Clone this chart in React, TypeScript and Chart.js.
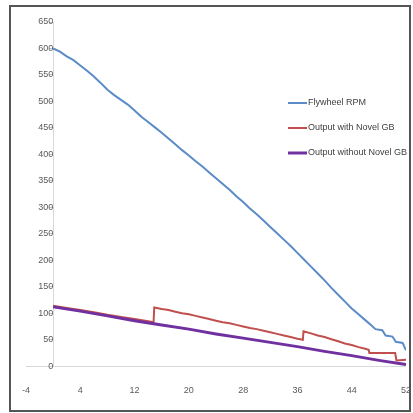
import React, { useEffect, useRef } from "react";
import { Chart, registerables } from "chart.js";

Chart.register(...registerables);

// Flywheel RPM
const rpmX = [0, 1, 2, 3, 4, 5, 6, 7, 8, 9, 10, 11, 12, 13, 14, 15, 16, 17, 18, 19, 20, 21, 22, 23, 24, 25, 26, 27, 28, 29, 30, 31, 32, 33, 34, 35, 36, 37, 38, 39, 40, 41, 42, 43, 44, 45, 46, 47, 47.5, 48.5, 49, 50, 50.5, 51.5, 52];
const rpmY = [600, 594, 585, 578, 568, 558, 547, 535, 522, 512, 503, 494, 483, 471, 461, 451, 441, 430, 419, 408, 398, 387, 377, 366, 355, 344, 333, 321, 310, 298, 287, 275, 263, 251, 239, 227, 214, 201, 188, 175, 162, 148, 135, 122, 109, 98, 87, 76, 70, 68, 58, 56, 46, 44, 30];

// Output with Novel GB
const withX = [0, 2, 4, 6, 8, 10, 12, 14, 14.8, 14.9, 16, 17, 18, 19, 20, 21, 22, 23, 24, 25, 26, 27, 28, 29, 30, 31, 32, 33, 34, 35, 36, 36.8, 36.9, 38, 39, 40, 41, 42, 43, 44, 45, 46, 46.5, 46.6, 48, 50.4, 50.6, 52];
const withY = [114, 110, 106, 102, 97, 93, 89, 85, 83, 111, 108, 106, 103, 100, 98, 95, 92, 89, 86, 83, 81, 78, 75, 72, 70, 67, 64, 61, 58, 55, 52, 50, 66, 62, 58, 55, 51, 47, 43, 40, 36, 33, 31, 25, 25, 25, 11, 12];

// Output without Novel GB
const withoutX = [0, 4, 8, 12, 16, 20, 24, 28, 32, 36, 40, 44, 48, 52];
const withoutY = [112, 104, 95, 86, 78, 70, 61, 53, 45, 37, 28, 20, 11, 3];

const seriesNames = ["Flywheel RPM", "Output with Novel GB", "Output without Novel GB"];
const seriesColors = ["#5B8CC8", "#C0504D", "#7030A0"];

const xTicks = [-4, 4, 12, 20, 28, 36, 44, 52];

const toPts = (xs: number[], ys: number[]) => xs.map((x, i) => ({ x, y: ys[i] }));

const framePlugin = {
  id: "frame",
  beforeDraw(chart: any) {
    const ctx = chart.ctx;
    ctx.save();
    ctx.fillStyle = "#ffffff";
    ctx.fillRect(0, 0, chart.width, chart.height);
    ctx.strokeStyle = "#555555";
    ctx.lineWidth = 2;
    ctx.strokeRect(10, 6, 400, 405);
    ctx.restore();
  },
};

const legendPlugin = {
  id: "insideLegend",
  afterDraw(chart: any) {
    const ctx = chart.ctx;
    const ds = chart.data.datasets;
    const x0 = 288;
    const y0 = 103;
    const gap = 25;
    ctx.save();
    ctx.font = "9px 'Liberation Sans', Arial, sans-serif";
    ctx.textBaseline = "middle";
    ctx.textAlign = "left";
    ds.forEach((d: any, i: number) => {
      const y = y0 + i * gap;
      ctx.strokeStyle = d.borderColor;
      ctx.lineWidth = d.borderWidth;
      ctx.beginPath();
      ctx.moveTo(x0, y);
      ctx.lineTo(x0 + 19, y);
      ctx.stroke();
      ctx.fillStyle = "#404040";
      ctx.fillText(d.label, x0 + 20, y);
    });
    ctx.restore();
  },
};

export default function App() {
  const ref = useRef<HTMLCanvasElement>(null);
  useEffect(() => {
    if (!ref.current) return;
    const chart = new Chart(ref.current, {
      type: "scatter",
      data: {
        datasets: [
          { label: seriesNames[0], data: toPts(rpmX, rpmY), borderColor: seriesColors[0], backgroundColor: seriesColors[0], borderWidth: 2, showLine: true, pointRadius: 0, order: 2 },
          { label: seriesNames[1], data: toPts(withX, withY), borderColor: seriesColors[1], backgroundColor: seriesColors[1], borderWidth: 2, showLine: true, pointRadius: 0, order: 1 },
          { label: seriesNames[2], data: toPts(withoutX, withoutY), borderColor: seriesColors[2], backgroundColor: seriesColors[2], borderWidth: 3, showLine: true, pointRadius: 0, order: 0 },
        ],
      },
      options: {
        animation: false,
        responsive: false,
        layout: { padding: { left: 26, right: -9, top: 22, bottom: 6 } },
        plugins: { legend: { display: false }, tooltip: { enabled: false } },
        scales: {
          x: {
            type: "linear",
            min: -4,
            max: 52,
            afterBuildTicks: (s: any) => { s.ticks = xTicks.map((v) => ({ value: v })); },
            grid: { display: false },
            border: { display: true, color: "#d9d9d9" },
            ticks: { padding: 11, color: "#595959", font: { size: 9, family: "'Liberation Sans', Arial, sans-serif" } },
          },
          y: {
            type: "linear",
            min: 0,
            max: 650,
            position: { x: 0 } as any,
            grid: { drawOnChartArea: false, drawTicks: true, tickLength: 4, color: "#bfbfbf" },
            border: { display: true, color: "#d9d9d9" },
            ticks: { stepSize: 50, padding: 4, color: "#595959", font: { size: 9, family: "'Liberation Sans', Arial, sans-serif" } },
          },
        },
      },
      plugins: [framePlugin, legendPlugin],
    });
    return () => chart.destroy();
  }, []);
  return (
    <div style={{ position: "fixed", left: 0, top: 0, width: 413, height: 413, overflow: "hidden" }}>
      <canvas ref={ref} width={422} height={413} style={{ width: 422, height: 413, display: "block" }} />
    </div>
  );
}
